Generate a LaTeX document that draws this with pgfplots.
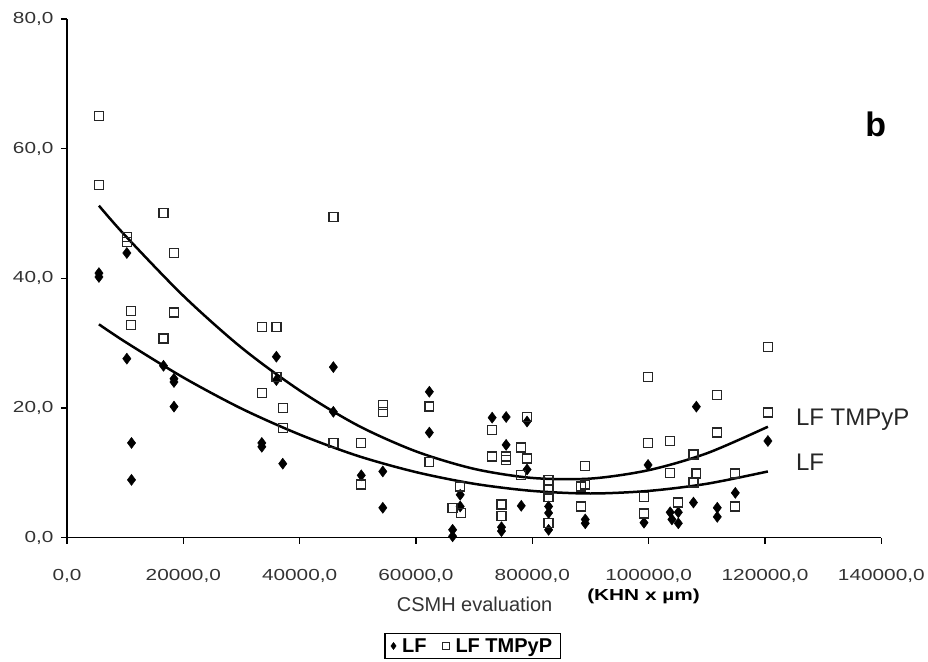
\documentclass[border=0pt]{standalone}
\usepackage{fontspec}
\setmainfont{Liberation Sans}
\newfontfamily\tickfont[FakeStretch=1.3]{Liberation Sans}
\usepackage{pgfplots}
\pgfplotsset{compat=1.18}

\begin{document}
\begin{tikzpicture}
\begin{axis}[
  scale only axis, width=815pt, height=519pt,
  xmin=0, xmax=140000, ymin=0, ymax=80,
  axis lines=left, axis line style={-, line width=1.3pt},
  xtick={0,20000,...,140000}, ytick={0,20,...,80},
  scaled x ticks=false, scaled y ticks=false,
  tick align=outside, major tick length=6pt,
  tick style={line width=1.2pt, black},
  /pgf/number format/fixed,
  /pgf/number format/fixed zerofill,
  /pgf/number format/precision=1,
  /pgf/number format/use comma,
  /pgf/number format/1000 sep={},
  /pgf/number format/assume math mode=true,
  ticklabel style={font=\tickfont\fontsize{16}{19}\selectfont, text=black!80},
  xticklabel style={yshift=-22pt},
  yticklabel style={xshift=-4pt},
  clip=false,
  legend style={at={(axis description cs:0.498,-0.209)}, anchor=center,
    legend columns=2, draw=black, line width=1.2pt,
    font=\bfseries\fontsize{20}{23}\selectfont, inner xsep=6pt, inner ysep=3pt,
    /tikz/every odd column/.append style={column sep=4pt},
    /tikz/every even column/.append style={column sep=14pt}},
  legend image post style={mark size=3.5pt},
]
% LF
\addplot[only marks, mark=diamond*, mark size=5.5pt,
  mark options={fill=black, draw=black, line width=0.5pt}] table {
x y
5500 40.8
5500 40.2
10300 43.9
10300 27.6
11100 14.6
11100 8.9
16600 26.5
18400 24.5
18400 24.0
18400 20.2
33500 14.6
33500 14.0
36000 27.9
36000 24.3
37100 11.4
45800 26.3
45800 19.4
50600 9.6
54300 10.2
54300 4.6
62300 22.5
62300 16.2
67600 6.6
67600 4.8
66300 1.2
66300 0.2
73100 18.5
75500 18.6
75500 14.3
74700 1.6
74700 1.0
79100 17.9
79100 10.5
78100 4.9
82800 4.8
82800 3.8
82800 1.2
89100 2.8
89100 2.2
99900 11.2
99200 2.3
103700 3.9
105100 3.9
104000 2.8
105100 2.2
107700 5.4
108200 20.2
111800 4.6
111800 3.2
114900 6.9
120500 14.9
};
% LF TMPyP
\addplot[only marks, mark=square, mark size=4.5pt,
  mark options={draw=black!85, line width=1.3pt}] table {
x y
5500 65.0
5500 54.4
10300 46.4
10300 45.6
11000 35.0
11000 32.8
16600 50.1
16600 30.7
18400 43.9
18400 34.7
33500 32.5
36000 32.5
36000 24.8
33500 22.3
37100 20.0
37100 16.9
45800 49.5
45800 14.6
50600 14.6
50600 8.2
54300 20.5
54300 19.4
62300 20.2
62300 11.7
67600 7.9
66300 4.6
67800 3.8
73100 16.6
73100 12.5
75500 12.5
75500 12.0
74700 5.1
74700 3.3
79100 18.6
78100 13.9
79100 12.2
78100 9.7
82800 8.9
82800 7.4
82800 6.3
82800 2.3
89100 11.0
88400 7.9
89100 8.2
88400 4.8
99900 24.8
99900 14.6
103700 14.9
99200 6.3
99200 3.7
103700 10.0
105100 5.4
107700 12.8
108200 9.9
107700 8.5
111800 22.0
111800 16.2
114900 9.9
114900 4.8
120500 29.4
120500 19.3
};
\legend{LF, LF TMPyP}
% trend lines
\addplot[forget plot, smooth, black, line width=2.5pt] coordinates {
(5500,51.2) (10000,46.6) (20000,37.3) (30000,29.3) (40000,22.7)
(50000,17.3) (60000,13.3) (70000,10.6) (80000,9.2) (90000,9.1)
(100000,10.4) (110000,13.0) (120500,17.1)};
\addplot[forget plot, smooth, black, line width=2.5pt] coordinates {
(5500,32.9) (10000,30.2) (20000,24.7) (30000,19.9) (40000,15.9)
(50000,12.6) (60000,10.1) (70000,8.3) (80000,7.2) (90000,6.8)
(100000,7.2) (110000,8.3) (120500,10.2)};

\node[font=\bfseries\fontsize{34}{40}\selectfont] at (axis description cs:0.993,0.796) {b};
\node[anchor=west, font=\fontsize{24}{28}\selectfont, text=black!85] at (axis description cs:0.891,0.227) {LF TMPyP};
\node[anchor=west, font=\fontsize{24}{28}\selectfont, text=black!85] at (axis description cs:0.891,0.1445) {LF};
\node[font=\fontsize{20}{24}\selectfont, text=black!80] at (axis description cs:0.5006,-0.129) {CSMH evaluation};
\node[font=\tickfont\bfseries\fontsize{16}{19}\selectfont] at (axis description cs:0.708,-0.114) {(KHN x µm)};
\path ([xshift=-67pt,yshift=-124pt]rel axis cs:0,0) rectangle ([xshift=46pt,yshift=19pt]rel axis cs:1,1);
\end{axis}
\end{tikzpicture}
\end{document}
